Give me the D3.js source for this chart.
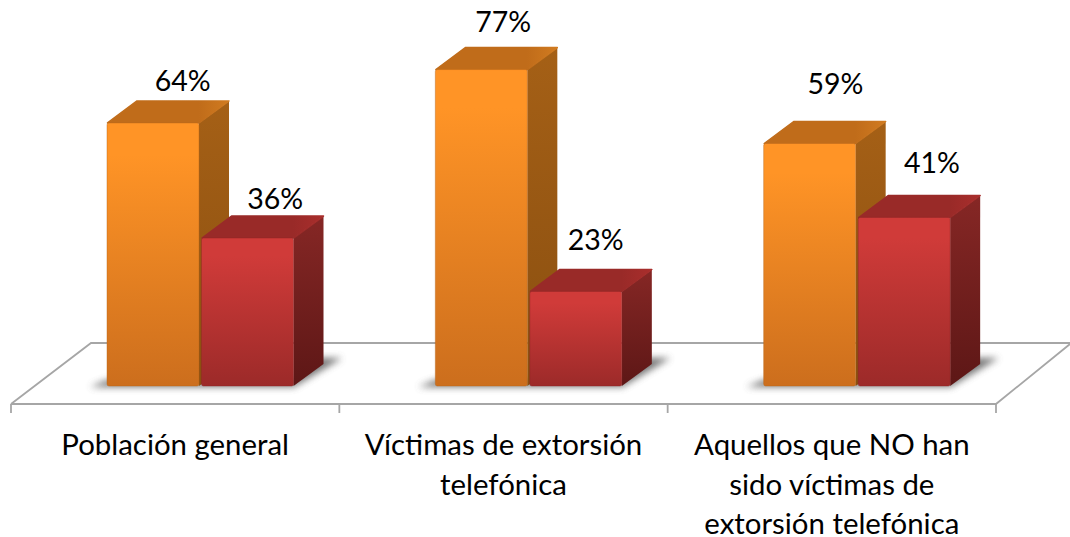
<!DOCTYPE html>
<html><head><meta charset="utf-8">
<script src="https://cdnjs.cloudflare.com/ajax/libs/d3/7.8.5/d3.min.js"></script>
<style>html,body{margin:0;padding:0;background:#fff}svg{display:block}text{font-family:Lato,Carlito,sans-serif;font-size:28.5px;fill:#000}text.cat{font-size:29.4px}</style>
</head><body><svg id="c" width="1070" height="537"></svg>
<script>
const categories = [["Población general"],["Víctimas de extorsión","telefónica"],["Aquellos que NO han","sido víctimas de","extorsión telefónica"]];
const seriesA = [64,77,59];
const seriesB = [36,23,41];
const seriesNames = ["A","B"];
const palette = {
  A:{top:"#ff9426",bottom:"#cc6e1d",lid:"#c06c1a",lidHi:"#d17b20",sideTop:"#a56016",sideBottom:"#8a4f10",edge:"#b8661a"},
  B:{top:"#d03b39",bottom:"#9c2a29",lid:"#992a28",lidHi:"#a92e2c",sideTop:"#862725",sideBottom:"#5d1716",edge:"#8e2524"}
};
const W=1070,H=537, base=386, floorFront=404, floorBack=343, depthX=30, depthY=22;
const svg=d3.select("#c");
const x=d3.scaleBand().domain(d3.range(categories.length)).range([11,996]);
const xInner=d3.scaleBand().domain(seriesNames).range([96,96+187]);
const y=d3.scaleLinear().domain([0,100]).range([base,base-411]);
const defs=svg.append("defs");
for(const k of seriesNames){
  const p=palette[k];
  const g=defs.append("linearGradient").attr("id","f"+k).attr("x1",0).attr("x2",0).attr("y1",0).attr("y2",1);
  g.append("stop").attr("offset","12%").attr("stop-color",p.top);
  g.append("stop").attr("offset","100%").attr("stop-color",p.bottom);
  const s=defs.append("linearGradient").attr("id","s"+k).attr("x1",0).attr("x2",0).attr("y1",0).attr("y2",1);
  s.append("stop").attr("offset","0%").attr("stop-color",p.sideTop);
  s.append("stop").attr("offset","100%").attr("stop-color",p.sideBottom);
  const l=defs.append("linearGradient").attr("id","l"+k).attr("x1",0).attr("x2",1).attr("y1",0).attr("y2",0);
  l.append("stop").attr("offset","75%").attr("stop-color",p.lid);
  l.append("stop").attr("offset","100%").attr("stop-color",p.lidHi);
}
defs.append("filter").attr("id","blur").attr("x","-20%").attr("y","-100%").attr("width","140%").attr("height","300%")
  .append("feGaussianBlur").attr("stdDeviation",3.5);

// floor
const fl=x.range()[0], fr=x.range()[1];
svg.append("path").attr("fill","#fff").attr("stroke","#a6a6a6").attr("stroke-width",1.8)
  .attr("d",`M${fl},${floorFront}L${fl+80},${floorBack}H${W}M${W},${floorBack+1}L${fr},${floorFront}H${fl}`);
const ticks=[...x.domain().map(i=>x(i)),fr];
svg.selectAll("line.t").data(ticks).join("line").attr("class","t")
  .attr("x1",d=>d).attr("x2",d=>d).attr("y1",floorFront).attr("y2",floorFront+9)
  .attr("stroke","#a6a6a6").attr("stroke-width",1.8);

// group shadows
const groups=svg.selectAll("g.grp").data(categories.map((c,i)=>i)).join("g").attr("class","grp")
  .attr("transform",i=>`translate(${x(i)},0)`);
groups.append("path").attr("fill","#555").attr("opacity",.8).attr("filter","url(#blur)")
  .attr("d",()=>{const a=xInner("A"),b=xInner("B")+xInner.bandwidth();
    return `M${a-17},${base+1}H${b}L${b+depthX+18},${base-28}H${b+depthX-20}L${b},${base-6}H${a}Z`;});

const rows=[["A",seriesA],["B",seriesB]];
for(const [k,vals] of rows){
  const w=xInner.bandwidth()-1.5;
  groups.each(function(i){
    const g=d3.select(this), x0=xInner(k)+(k==="B"?1:0), yt=y(vals[i]);
    g.append("path").attr("fill",`url(#s${k})`)
      .attr("d",`M${x0+w},${yt}L${x0+w+depthX},${yt-depthY}V${base-depthY}L${x0+w},${base}Z`);
    g.append("path").attr("fill",`url(#l${k})`).attr("stroke",`url(#l${k})`).attr("stroke-width",1.5).attr("stroke-linejoin","round")
      .attr("d",`M${x0+.5},${yt}L${x0+depthX},${yt-depthY}H${x0+w+depthX}L${x0+w},${yt}Z`);
    g.append("rect").attr("x",x0).attr("y",yt).attr("width",w).attr("height",base-yt).attr("rx",2)
      .attr("fill",`url(#f${k})`).attr("stroke",palette[k].edge).attr("stroke-opacity",.55).attr("stroke-width",.8);
  });
}

// value labels (nudges follow the reference's hand-placed labels)
const nudgeA=[-10,-16,-28], nudgeB=[-7,-19,-22], shiftA=[29,21,25], shiftB=[28,20,28];
for(const [k,vals,nud,sh] of [["A",seriesA,nudgeA,shiftA],["B",seriesB,nudgeB,shiftB]]){
  svg.selectAll("text.v"+k).data(vals).join("text").attr("class","v"+k)
    .attr("text-anchor","middle")
    .attr("x",(d,i)=>x(i)+xInner(k)+xInner.bandwidth()/2+sh[i])
    .attr("y",(d,i)=>y(d)-depthY+nud[i])
    .text(d=>d+"%");
}

// category labels
svg.selectAll("text.cat").data(categories).join("text").attr("class","cat")
  .attr("text-anchor","middle")
  .attr("transform",(d,i)=>`translate(${x(i)+x.bandwidth()/2},0)`)
  .each(function(d){
    d3.select(this).selectAll("tspan").data(d).join("tspan")
      .attr("x",0).attr("y",(t,j)=>455+j*39.5).text(t=>t);
  });
</script></body></html>
